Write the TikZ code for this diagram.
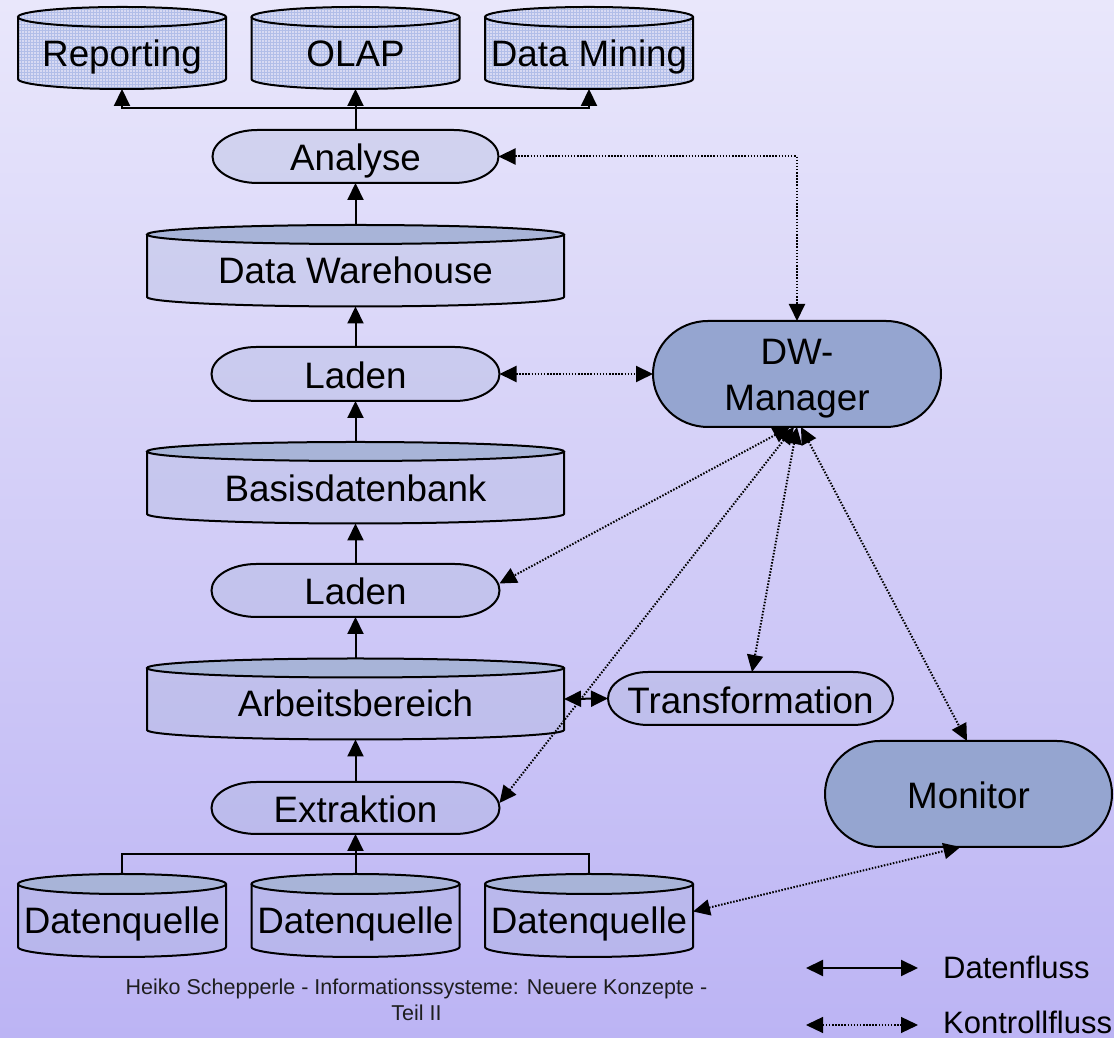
\documentclass[tikz,border=0pt]{standalone}
\usepackage{fontspec}
\setmainfont{Liberation Sans}
\usetikzlibrary{arrows.meta,patterns}
\definecolor{bgtop}{RGB}{233,231,251}
\definecolor{bgbot}{RGB}{188,180,244}
\definecolor{capc}{RGB}{168,180,216}
\definecolor{mgrc}{RGB}{149,165,208}
\definecolor{gridbody}{RGB}{216,218,243}
\definecolor{gridline}{RGB}{178,190,232}
\definecolor{footc}{RGB}{30,30,30}
\tikzset{
  box/.style={rectangle,draw=none,inner sep=0pt,outer sep=0pt},
  shapeline/.style={draw=black,line width=2pt},
  bodyfill/.style={fill=capc,fill opacity=0.3},
  gridfill/.style={fill=gridbody,postaction={pattern=grid,pattern color=gridline}},
  capfill/.style={fill=capc},
  mgrfill/.style={fill=mgrc},
  lbl/.style={font=\fontsize{36.8}{44}\selectfont,text height=26.3pt,text depth=0pt,inner sep=0pt},
  leg/.style={font=\fontsize{31}{37}\selectfont,text height=22.2pt,text depth=0pt,inner sep=0pt,anchor=west},
  foot/.style={font=\fontsize{21.5}{26}\selectfont,text=footc,text height=15.4pt,text depth=0pt,inner sep=0pt},
  tip/.tip={Triangle[length=17pt,width=16pt]},
  flow/.style={line width=2pt,-tip},
  flowboth/.style={line width=2pt,tip-tip},
  plain/.style={line width=2pt},
  ctrl/.style={line width=2pt,dash pattern=on 1.5pt off 1.6pt,tip-tip}
}
% #1 name, #2 cx, #3 Y of top ellipse, #4 Y of bottom ellipse, #5 half width, #6 ry, #7 body style, #8 cap style
\newcommand{\cylshape}[8]{%
  \fill[#7] (#2-#5,#3) -- (#2-#5,#4) arc[start angle=180,end angle=360,x radius=#5,y radius=#6] -- (#2+#5,#3) -- cycle;
  \draw[shapeline] (#2-#5,#3) -- (#2-#5,#4) arc[start angle=180,end angle=360,x radius=#5,y radius=#6] -- (#2+#5,#3);
  \path[#8] (#2,#3) ellipse[x radius=#5,y radius=#6];
  \draw[shapeline] (#2,#3) ellipse[x radius=#5,y radius=#6];
  \node[box,minimum width={2*#5},minimum height={#3-#4+2*#6}] (#1) at (#2,{(#3+#4)/2}) {};
}
% #1 name, #2 cx, #3 cy, #4 half width, #5 half height, #6 rx of ends, #7 fill style
\newcommand{\stadshape}[7]{%
  \path[#7] (#2-#4+#6,#3+#5) -- (#2+#4-#6,#3+#5) arc[start angle=90,end angle=-90,x radius=#6,y radius=#5] -- (#2-#4+#6,#3-#5) arc[start angle=270,end angle=90,x radius=#6,y radius=#5] -- cycle;
  \draw[shapeline] (#2-#4+#6,#3+#5) -- (#2+#4-#6,#3+#5) arc[start angle=90,end angle=-90,x radius=#6,y radius=#5] -- (#2-#4+#6,#3-#5) arc[start angle=270,end angle=90,x radius=#6,y radius=#5] -- cycle;
  \node[box,minimum width={2*#4},minimum height={2*#5}] (#1) at (#2,#3) {};
}
\begin{document}
\begin{tikzpicture}[x=1pt,y=1pt]
\useasboundingbox (0,0) rectangle (1114,1038);
\shade[top color=bgtop,bottom color=bgbot] (0,0) rectangle (1114,1038);

% top output cylinders
\cylshape{rep}{122}{1021}{959}{104}{10}{gridfill}{gridfill}
\cylshape{olap}{355.5}{1021}{959}{104}{10}{gridfill}{gridfill}
\cylshape{dm}{589}{1021}{959}{104}{10}{gridfill}{gridfill}
\node[lbl] (trep) at (122,985) {Reporting};
\node[lbl] (tolap) at (355.5,985) {OLAP};
\node[lbl] (tdm) at (589,985) {Data Mining};

% main column
\stadshape{analyse}{355.5}{881.5}{143}{26.5}{45}{bodyfill}
\node[lbl] (tanalyse) at (355.5,881) {Analyse};
\cylshape{dwh}{355.5}{803.5}{741}{208.5}{9.5}{bodyfill}{capfill}
\node[lbl] (tdwh) at (355.5,768) {Data Warehouse};
\stadshape{ladena}{355.5}{664}{144}{27}{45}{bodyfill}
\node[lbl] (tladena) at (355.5,663) {Laden};
\cylshape{basis}{355.5}{586.5}{524}{208.5}{9.5}{bodyfill}{capfill}
\node[lbl] (tbasis) at (355.5,549.5) {Basisdatenbank};
\stadshape{ladenb}{355.5}{447.5}{144}{26.5}{45}{bodyfill}
\node[lbl] (tladenb) at (355.5,447) {Laden};
\cylshape{arb}{355.5}{370}{308}{208.5}{9.5}{bodyfill}{capfill}
\node[lbl] (tarb) at (355.5,334.3) {Arbeitsbereich};
\stadshape{extr}{355.5}{230}{144}{26}{45}{bodyfill}
\node[lbl] (textr) at (355.5,228.5) {Extraktion};

% sources
\cylshape{dqa}{122}{154}{91}{104}{10}{bodyfill}{capfill}
\cylshape{dqb}{355.5}{154}{91}{104}{10}{bodyfill}{capfill}
\cylshape{dqc}{589}{154}{91}{104}{10}{bodyfill}{capfill}
\node[lbl] (tdqa) at (122,118) {Datenquelle};
\node[lbl] (tdqb) at (355.5,118) {Datenquelle};
\node[lbl] (tdqc) at (589,118) {Datenquelle};

% right side
\stadshape{dwm}{797}{664}{144}{53}{55}{mgrfill}
\node[font=\fontsize{36.8}{45.5}\selectfont,align=center,inner sep=0pt,text depth=0pt] (tdwm) at (797,663) {DW-\\Manager};
\stadshape{trans}{750.5}{339.5}{142.5}{26.5}{40}{bodyfill}
\node[lbl] (ttrans) at (750.5,338) {Transformation};
\stadshape{mon}{968.5}{244}{143.5}{53}{55}{mgrfill}
\node[lbl] (tmon) at (968.5,242.5) {Monitor};

% data flow
\coordinate (splittop) at (355.5,930);
\coordinate (splitbot) at (355.5,184);
\draw[flow] (analyse.north) -- (olap.south);
\draw[flow] (splittop) -| (rep.south);
\draw[flow] (splittop) -| (dm.south);
\draw[flow] (dwh.north) -- (analyse.south);
\draw[flow] (ladena.north) -- (dwh.south);
\draw[flow] (basis.north) -- (ladena.south);
\draw[flow] (ladenb.north) -- (basis.south);
\draw[flow] (arb.north) -- (ladenb.south);
\draw[flow] (extr.north) -- (arb.south);
\draw[flow] (dqb.north) -- (extr.south);
\draw[plain] (dqa.north) |- (splitbot) -| (dqc.north);
\draw[flowboth] (arb.east) -- (trans.west);

% control flow
\draw[ctrl] (analyse.east) -| (dwm.north);
\draw[ctrl] (ladena.east) -- (dwm.west);
\draw[ctrl] ([xshift=-7pt]dwm.south) -- ([yshift=7pt]ladenb.east);
\draw[ctrl] ([xshift=-3pt]dwm.south) -- ([yshift=5pt]extr.east);
\draw[ctrl] ([xshift=0pt]dwm.south) -- ([xshift=1.5pt]trans.north);
\draw[ctrl] ([xshift=4pt]dwm.south) -- ([xshift=-1.5pt]mon.north);
\draw[ctrl] ([yshift=4pt]dqc.east) -- ([xshift=-8pt]mon.south);

% legend
\coordinate (lgaa) at (806,70);
\coordinate (lgab) at (918,70);
\coordinate (lgba) at (806,13);
\coordinate (lgbb) at (918,13);
\draw[flowboth] (lgaa) -- (lgab);
\draw[ctrl,line width=1.2pt] (lgba) -- (lgbb);
\node[leg] (tlga) at (943,71) {Datenfluss};
\node[leg] (tlgb) at (943,16) {Kontrollfluss};

% footer
\node[foot] (foota) at (416.5,51) {Heiko Schepperle - Informationssysteme: Neuere Konzepte -};
\node[foot] (footb) at (416.5,25.5) {Teil II};
\end{tikzpicture}
\end{document}
